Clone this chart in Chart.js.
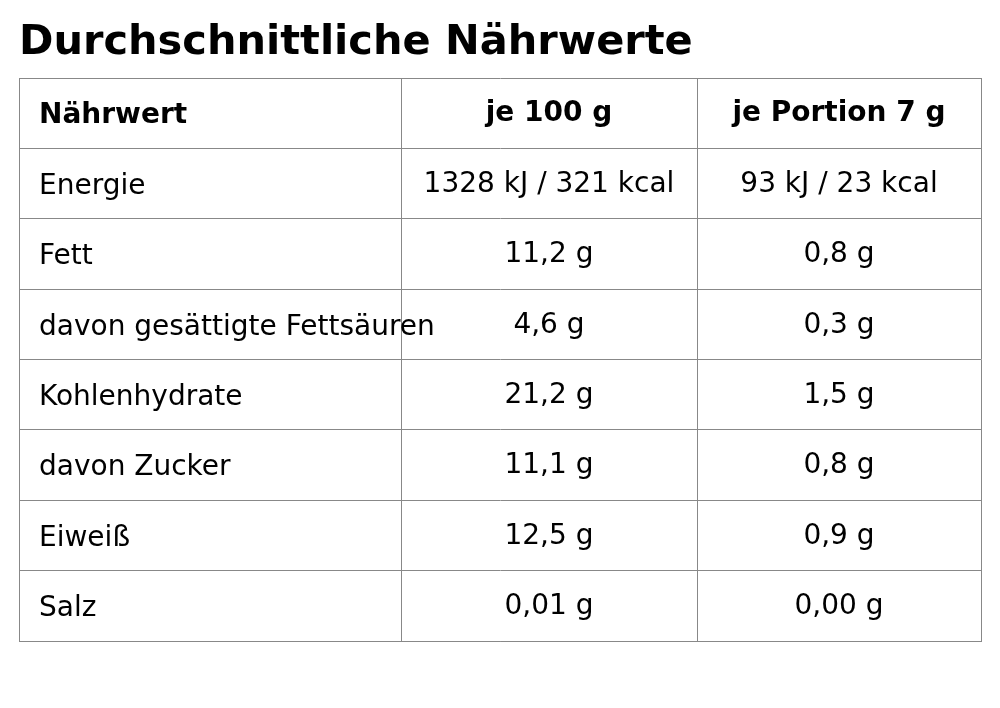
<!DOCTYPE html>
<html><head><meta charset="utf-8">
<script src="https://cdn.jsdelivr.net/npm/chart.js@4"></script>
<style>html,body{margin:0;padding:0;background:#fff}#w{width:1000px;height:708px}</style>
</head><body><div id="w"><canvas id="c"></canvas></div>
<script>
const title = "Durchschnittliche Nährwerte";
const headers = ["Nährwert", "je 100 g", "je Portion 7 g"];
const nutrients = ["Energie", "Fett", "davon gesättigte Fettsäuren", "Kohlenhydrate", "davon Zucker", "Eiweiß", "Salz"];
const per100 = ["1328 kJ / 321 kcal", "11,2 g", "4,6 g", "21,2 g", "11,1 g", "12,5 g", "0,01 g"];
const perPortion = ["93 kJ / 23 kcal", "0,8 g", "0,3 g", "1,5 g", "0,8 g", "0,9 g", "0,00 g"];
const colBounds = [0, 382, 678, 962];

const rows = [headers].concat(nutrients.map((n, i) => [n, per100[i], perPortion[i]]));
const FONT = "DejaVu Sans";

const tablePlugin = {
  id: 'table',
  afterDraw(chart) {
    const ctx = chart.ctx, xs = chart.scales.x, ys = chart.scales.y;
    ctx.save();
    ctx.fillStyle = '#000';
    ctx.textBaseline = 'middle';
    ctx.font = `bold 41.5px "${FONT}"`;
    ctx.textAlign = 'left';
    ctx.fillText(title, 19, 43);
    rows.forEach((r, ri) => {
      const y = ys.getPixelForValue(ri + 0.5);
      ctx.font = (ri === 0 ? 'bold ' : '') + `28px "${FONT}"`;
      r.forEach((t, ci) => {
        if (ci === 0) {
          ctx.textAlign = 'left';
          ctx.fillText(t, xs.getPixelForValue(colBounds[0]) + 20, y + 3);
        } else {
          ctx.textAlign = 'center';
          ctx.fillText(t, (xs.getPixelForValue(colBounds[ci]) + xs.getPixelForValue(colBounds[ci + 1])) / 2, y + 1);
        }
      });
    });
    ctx.restore();
  }
};

new Chart(document.getElementById('c'), {
  type: 'scatter',
  data: { datasets: [{ data: [] }] },
  options: {
    responsive: true, maintainAspectRatio: false, animation: false,
    layout: { padding: { left: 19, right: 19, top: 78, bottom: 67 } },
    plugins: { legend: { display: false }, tooltip: { enabled: false } },
    scales: {
      x: {
        type: 'linear', min: colBounds[0], max: colBounds[colBounds.length - 1],
        afterBuildTicks: s => { s.ticks = colBounds.map(v => ({ value: v })); },
        ticks: { display: false },
        grid: { color: '#888', lineWidth: 1, drawTicks: false },
        border: { color: '#888' }
      },
      y: {
        type: 'linear', min: 0, max: rows.length, reverse: true,
        afterBuildTicks: s => { s.ticks = rows.map((_, i) => ({ value: i })).concat([{ value: rows.length }]); },
        ticks: { display: false },
        grid: { color: '#888', lineWidth: 1, drawTicks: false },
        border: { color: '#888' }
      }
    }
  },
  plugins: [tablePlugin]
});
</script></body></html>
